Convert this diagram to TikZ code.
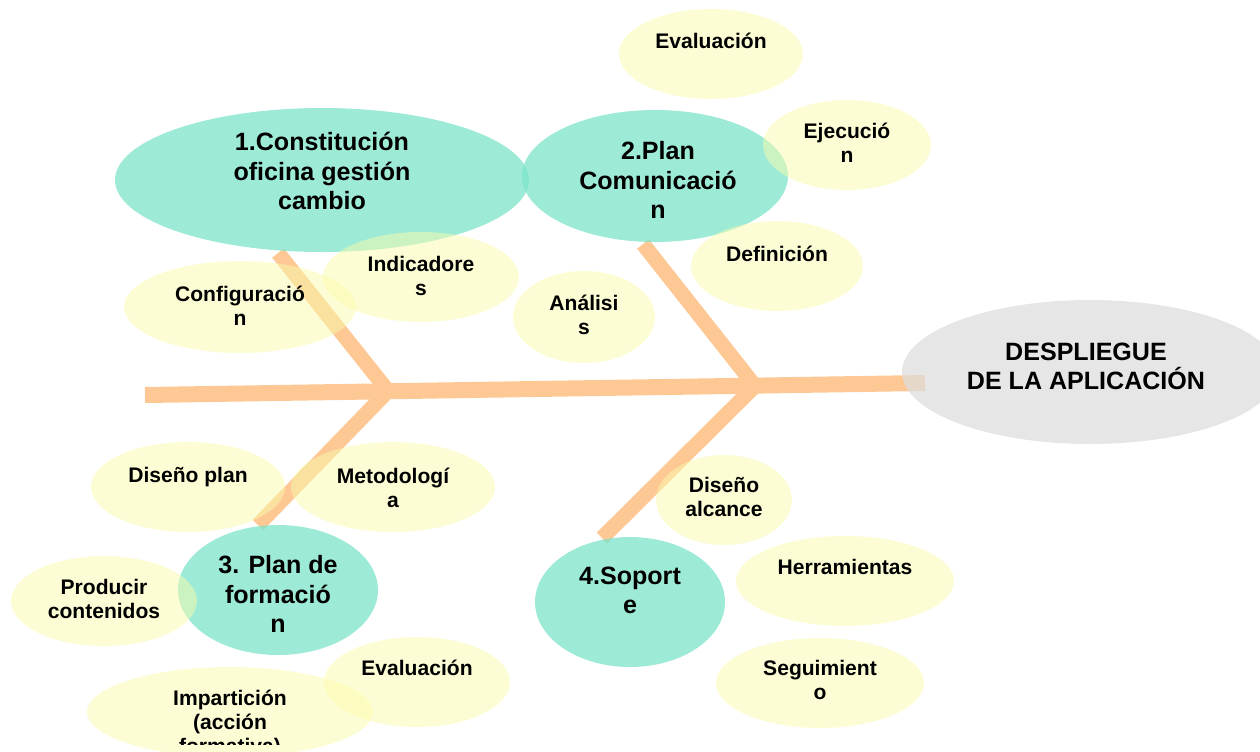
\documentclass[tikz,border=0pt]{standalone}
\usepackage{fontspec}
\setmainfont{Liberation Sans}
\usetikzlibrary{shapes.geometric}
\definecolor{tealc}{RGB}{124,228,202}
\definecolor{yelc}{RGB}{251,251,171}
\definecolor{grayc}{RGB}{222,222,222}
\definecolor{bonec}{RGB}{253,200,148}
\begin{document}
\begin{tikzpicture}[x=0.75pt,y=-0.75pt,
  ell/.style 2 args={ellipse, inner sep=0pt, minimum width=#1*1.5pt, minimum height=#2*1.5pt},
  mainell/.style={fill=tealc, fill opacity=0.75},
  subell/.style={fill=yelc, fill opacity=0.5},
  rootell/.style={fill=grayc, fill opacity=0.75},
  bonestyle/.style={draw=bonec, line width=11.25pt, line join=miter, line cap=butt},
  spinestyle/.style={draw=bonec, line width=12pt, line cap=butt},
  bigtxt/.style={font=\bfseries\fontsize{18.8}{21.9}\selectfont, align=center, inner sep=0pt, text=black},
  smalltxt/.style={font=\bfseries\fontsize{15.8}{18}\selectfont, align=center, inner sep=0pt, text=black}
]
\useasboundingbox (0,0) rectangle (1260,751);
\clip (0,0) rectangle (1260,751);

% skeleton
\coordinate (s0) at (145,395);
\coordinate (s1) at (925,383);
\coordinate (j1) at (388,391);
\coordinate (j2) at (755,386);
\coordinate (b1) at (278,253);
\coordinate (b3) at (258,525);
\coordinate (b2) at (643,244);
\coordinate (b4) at (602,538);
\draw[spinestyle] (s0) -- (s1);
\draw[bonestyle] (b1) -- (j1) -- (b3);
\draw[bonestyle] (b2) -- (j2) -- (b4);

% ellipses
\node[ell={207}{72}, mainell] (e1) at (322,180) {};
\node[ell={133}{66}, mainell] (e2) at (655,176) {};
\node[ell={92}{45}, subell] (eEv1) at (711,54) {};
\node[ell={84}{45}, subell] (eEj) at (847,145) {};
\node[ell={86}{45}, subell] (eDef) at (777,266) {};
\node[ell={98}{45}, subell] (eInd) at (421,277) {};
\node[ell={116}{46}, subell] (eConf) at (240,307) {};
\node[ell={71}{46}, subell] (eAn) at (584,317) {};
\node[ell={188}{72}, rootell] (eRoot) at (1090,372) {};
\node[ell={97}{45}, subell] (eDis) at (188,487) {};
\node[ell={102}{45}, subell] (eMet) at (393,487) {};
\node[ell={100}{65}, mainell] (e3) at (278,590) {};
\node[ell={93}{45}, subell] (eProd) at (104,601) {};
\node[ell={93}{45}, subell] (eEv2) at (417,682) {};
\node[ell={143}{45}, subell] (eImp) at (230,712) {};
\node[ell={95}{65}, mainell] (e4) at (630,602) {};
\node[ell={68}{45}, subell] (eDa) at (724,500) {};
\node[ell={109}{45}, subell] (eHer) at (845,581) {};
\node[ell={104}{45}, subell] (eSeg) at (820,683) {};

% texts
\node[bigtxt] (t1) at (322,171) {1.Constitución\\oficina gestión\\cambio};
\node[bigtxt] (t2) at (658,180) {2.Plan\\Comunicació\\n};
\node[smalltxt] (tEv1) at (711,41) {Evaluación};
\node[smalltxt] (tEj) at (847,143) {Ejecució\\n};
\node[smalltxt] (tDef) at (777,254) {Definición};
\node[smalltxt] (tInd) at (421,276) {Indicadore\\s};
\node[smalltxt] (tConf) at (240,306) {Configuració\\n};
\node[smalltxt] (tAn) at (584,315) {Análisi\\s};
\node[bigtxt] (tRoot) at (1086,366) {DESPLIEGUE\\DE LA APLICACIÓN};
\node[smalltxt] (tDis) at (188,477) {Diseño plan};
\node[smalltxt] (tMet) at (393,488) {Metodologí\\a};
\node[bigtxt] (t3) at (278,594) {3. Plan de\\formació\\n};
\node[smalltxt] (tProd) at (104,599) {Producir\\contenidos};
\node[smalltxt] (tEv2) at (417,668) {Evaluación};
\begin{scope}
  \clip (0,0) rectangle (1260,744);
  \node[smalltxt, anchor=north] (tImp) at (230,690) {Impartición\\(acción\\formativa)};
\end{scope}
\node[bigtxt] (t4) at (630,590) {4.Soport\\e};
\node[smalltxt] (tDa) at (724,497) {Diseño\\alcance};
\node[smalltxt] (tHer) at (845,567) {Herramientas};
\node[smalltxt] (tSeg) at (820,680) {Seguimient\\o};
\end{tikzpicture}
\end{document}
